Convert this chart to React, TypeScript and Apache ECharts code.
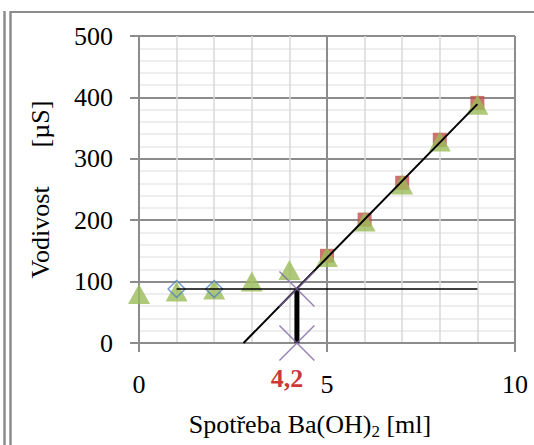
import React, { useEffect, useRef } from "react";
import * as echarts from "echarts";

// Data
const volumes = [0, 1, 2, 3, 4, 5, 6, 7, 8, 9];
const conductivity = [80, 84, 87, 100, 119, 140, 198, 258, 328, 388];
const excessVolumes = [5, 6, 7, 8, 9];
const excessConductivity = [142, 201, 261, 331, 391];
const plateauVolumes = [1, 2];
const plateauConductivity = [88, 88];
const trendVolumes = [2.78, 9];
const trendConductivity = [0, 389];
const plateauLineVolumes = [1, 9];
const plateauLineConductivity = [88, 88];
const equivalenceVolume = 4.2;
const equivalenceConductivity = 88;
const equivalenceLabel = "4,2";
const xTitle = "Spotřeba Ba(OH)";
const xTitleSub = "2";
const xTitleEnd = " [ml]";
const yTitle = "Vodivost\u00A0\u00A0\u00A0\u00A0\u00A0\u00A0[µS]";

const FONT = "'Liberation Serif', 'Times New Roman', serif";
const GRID_MAJOR = "#8c8c8c";

export default function App() {
  const ref = useRef<HTMLDivElement>(null);
  useEffect(() => {
    if (!ref.current) return;
    const chart = echarts.init(ref.current, null, { renderer: "svg" });
    const pairs = (xs: number[], ys: number[]) => xs.map((x, i) => [x, ys[i]]);
    chart.setOption({
      animation: false,
      backgroundColor: "#ffffff",
      grid: { left: 139, right: 19, top: 36, bottom: 100 },
      graphic: [
        { type: "line", shape: { x1: 4.5, y1: 11, x2: 4.5, y2: 445 }, style: { stroke: GRID_MAJOR, lineWidth: 2.5 } },
        { type: "line", shape: { x1: 10.5, y1: 11, x2: 10.5, y2: 445 }, style: { stroke: GRID_MAJOR, lineWidth: 2.5 } },
        { type: "line", shape: { x1: 10, y1: 12, x2: 534, y2: 12 }, style: { stroke: GRID_MAJOR, lineWidth: 2 } },
      ],
      xAxis: {
        type: "value",
        min: 0,
        max: 10,
        interval: 5,
        axisLine: { show: true, lineStyle: { color: GRID_MAJOR, width: 2 } },
        axisTick: { show: true, length: 9, lineStyle: { color: GRID_MAJOR, width: 2 } },
        minorTick: { show: false, splitNumber: 5 },
        splitLine: { show: true, lineStyle: { color: GRID_MAJOR, width: 2 } },
        minorSplitLine: { show: true, lineStyle: { color: "#d9d9d9", width: 1.5 } },
        axisLabel: { margin: 28, color: "#000", fontSize: 26, fontFamily: FONT },
        name: `{m|${xTitle}}{s|${xTitleSub}}{m|${xTitleEnd}}`,
        nameLocation: "middle",
        nameGap: 66,
        nameTextStyle: {
          padding: [0, 34, 0, 0],
          rich: {
            m: { fontSize: 26, fontFamily: FONT, color: "#000" },
            s: { fontSize: 17, fontFamily: FONT, color: "#000", padding: [14, 0, 0, 0] },
          },
        },
      },
      yAxis: {
        type: "value",
        min: 0,
        max: 500,
        interval: 100,
        axisLine: { show: true, lineStyle: { color: GRID_MAJOR, width: 2 } },
        axisTick: { show: true, length: 9, lineStyle: { color: GRID_MAJOR, width: 2 } },
        minorTick: { show: false, splitNumber: 5 },
        splitLine: { show: true, lineStyle: { color: GRID_MAJOR, width: 2 } },
        minorSplitLine: { show: true, lineStyle: { color: "#eeeeee", width: 2 } },
        axisLabel: { margin: 26, color: "#000", fontSize: 26, fontFamily: FONT },
        name: yTitle,
        nameLocation: "middle",
        nameRotate: 90,
        nameGap: 86,
        nameTextStyle: { fontSize: 26, fontFamily: FONT, color: "#000" },
      },
      series: [
        {
          type: "scatter",
          data: pairs(excessVolumes, excessConductivity),
          symbol: "rect",
          symbolSize: 14,
          itemStyle: { color: "#C0504D" },
          z: 2,
        },
        {
          type: "scatter",
          data: pairs(volumes, conductivity),
          symbol: "triangle",
          symbolSize: [22, 20],
          itemStyle: { color: "#9BBB59" },
          z: 3,
        },
        {
          type: "scatter",
          data: pairs(plateauVolumes, plateauConductivity),
          symbol: "diamond",
          symbolSize: 17,
          itemStyle: { color: "rgba(0,0,0,0)", borderColor: "#4F81BD", borderWidth: 1.5 },
          z: 4,
        },
        {
          type: "line",
          data: pairs(trendVolumes, trendConductivity),
          showSymbol: false,
          symbol: "none",
          lineStyle: { color: "#000", width: 2 },
          z: 5,
        },
        {
          type: "line",
          data: pairs(plateauLineVolumes, plateauLineConductivity),
          showSymbol: false,
          symbol: "none",
          lineStyle: { color: "#000", width: 1.5 },
          z: 5,
        },
        {
          type: "line",
          data: [
            [equivalenceVolume, equivalenceConductivity],
            [equivalenceVolume, 0],
          ],
          showSymbol: false,
          symbol: "none",
          lineStyle: { color: "#000", width: 5 },
          z: 5,
        },
        {
          type: "scatter",
          symbol: "path://M0,0L10,10M10,0L0,10",
          symbolSize: 35,
          itemStyle: { color: "rgba(0,0,0,0)", borderColor: "#8064A2", borderWidth: 1.5 },
          z: 6,
          data: [
            [equivalenceVolume, equivalenceConductivity],
            {
              value: [equivalenceVolume, 0],
              label: {
                show: true,
                formatter: equivalenceLabel,
                position: "bottom",
                distance: 4,
                offset: [-10, 0],
                color: "#C00000",
                fontWeight: "bold",
                fontSize: 26,
                fontFamily: FONT,
              },
            },
          ],
        },
      ],
    });
    return () => chart.dispose();
  }, []);
  return (
    <div
      ref={ref}
      style={{ position: "fixed", left: 0, top: 0, width: 534, height: 445 }}
    />
  );
}
